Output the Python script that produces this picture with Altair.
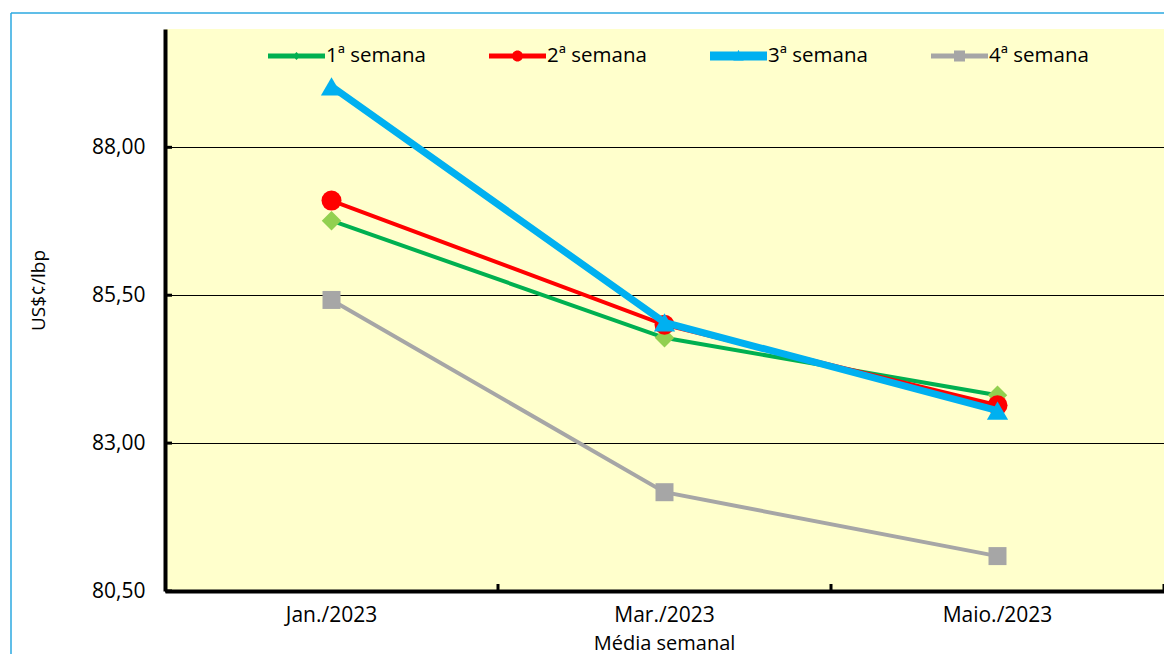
import altair as alt
import pandas as pd

# ---- data ----
meses = ["Jan./2023", "Mar./2023", "Maio./2023"]
series = ["1ª semana", "2ª semana", "3ª semana", "4ª semana"]
sem1 = [86.76, 84.78, 83.81]
sem2 = [87.10, 85.00, 83.64]
sem3 = [89.03, 85.04, 83.55]
sem4 = [85.42, 82.17, 81.09]
y_ticks = [80.5, 83.0, 85.5, 88.0]

valores = [sem1, sem2, sem3, sem4]

# ---- styles ----
line_colors = ["#00B050", "#FF0000", "#00B0F0", "#A6A6A6"]
marker_colors = ["#92D050", "#FF0000", "#00B0F0", "#A6A6A6"]
marker_shapes = ["diamond", "circle", "triangle-up", "square"]
marker_sizes = [380, 400, 450, 324]
line_widths = [4, 4, 7, 4]

FONT = "Open Sans"
W, H = 999, 562


def rect(h):
    return f"M-1,-{h}H1V{h}H-1Z"


legend_paths = [
    rect(0.088) + "M0,-0.14L0.14,0L0,0.14L-0.14,0Z",
    rect(0.088) + "M-0.193,0A0.193,0.193 0 1,1 0.193,0A0.193,0.193 0 1,1 -0.193,0Z",
    rect(0.158) + "M0,-0.22L0.18,0.17H-0.18Z",
    rect(0.088) + "M-0.193,-0.193H0.193V0.193H-0.193Z",
]

rows = []
for s, vals in zip(series, valores):
    for m, v in zip(meses, vals):
        rows.append({"mes": m, "serie": s, "valor": v})
df = pd.DataFrame(rows)

x_scale = alt.Scale(domain=meses, paddingInner=0, paddingOuter=0)
y_scale = alt.Scale(domain=[80.5, 90.0], nice=False, zero=False)

x_axis = alt.Axis(
    title="Média semanal", labelAngle=0, ticks=False, tickSize=0, grid=False,
    domainWidth=4, domainColor="#000000",
    labelFont=FONT, labelFontSize=21, labelColor="#000000", labelPadding=13,
    titleFont=FONT, titleFontSize=20, titleFontWeight="normal", titleColor="#000000",
    titleX=499, titleY=52, titleBaseline="middle", titleAlign="center",
)
y_axis = alt.Axis(
    title="US$¢/lbp", values=y_ticks, ticks=False, tickSize=0,
    labelExpr="replace(format(datum.value, '.2f'), '.', ',')",
    grid=True, gridColor="#000000", gridWidth=1,
    domainWidth=4, domainColor="#000000",
    labelFont=FONT, labelFontSize=21, labelColor="#000000", labelPadding=20,
    titleFont=FONT, titleFontSize=19, titleFontWeight="normal", titleColor="#000000",
    titleX=-127, titleY=261, titleAngle=270, titleBaseline="middle", titleAlign="center",
)

X = alt.X("mes:N", sort=meses, scale=x_scale, axis=x_axis)
Y = alt.Y("valor:Q", scale=y_scale, axis=y_axis)

layers = []

# outer frame (decorative)
frame_df = pd.DataFrame({"k": [0]})
layers.append(
    alt.Chart(frame_df).mark_rule(color="#2BA8E0", strokeWidth=1.5).encode(
        x=alt.value(-154), x2=alt.value(1100), y=alt.value(-16)
    )
)
layers.append(
    alt.Chart(frame_df).mark_rule(color="#2BA8E0", strokeWidth=1.5).encode(
        x=alt.value(-154), y=alt.value(-16), y2=alt.value(700)
    )
)

# inside tick marks
yt_df = pd.DataFrame({"valor": y_ticks})
layers.append(
    alt.Chart(yt_df).mark_rule(color="#000000", strokeWidth=3).encode(
        y=Y, x=alt.value(0), x2=alt.value(7)
    )
)
xt_df = pd.DataFrame({"mes": meses})
layers.append(
    alt.Chart(xt_df).mark_rule(color="#000000", strokeWidth=3).encode(
        x=alt.X("mes:N", sort=meses, scale=x_scale, axis=x_axis, bandPosition=1),
        y=alt.value(H - 7), y2=alt.value(H),
    )
)

# series
for i, s in enumerate(series):
    sub = df[df["serie"] == s]
    base = alt.Chart(sub).encode(x=X, y=Y)
    layers.append(base.mark_line(color=line_colors[i], strokeWidth=line_widths[i]))
    layers.append(
        base.mark_point(
            filled=True, opacity=1, color=marker_colors[i],
            shape=marker_shapes[i], size=marker_sizes[i], strokeWidth=0,
        )
    )

# legend layer (no visible marks)
leg = alt.Legend(
    title=None, orient="none", legendX=103, legendY=-1.5, direction="horizontal",
    columns=4, symbolSize=3249, symbolStrokeWidth=0, symbolOpacity=1,
    labelFont=FONT, labelFontSize=20.5, labelColor="#000000", labelOffset=1,
    columnPadding=63, padding=0,
)
layers.append(
    alt.Chart(df).transform_filter("false").mark_point(filled=True, opacity=1).encode(
        x=X, y=Y,
        color=alt.Color("serie:N", scale=alt.Scale(domain=series, range=line_colors), legend=leg),
        shape=alt.Shape("serie:N", scale=alt.Scale(domain=series, range=legend_paths), legend=leg),
    )
)

chart = alt.layer(*layers).properties(
    width=W, height=H,
    padding={"left": 157, "top": 21, "right": 0, "bottom": 63},
    autosize=alt.AutoSizeParams(type="none"),
    background="#FFFFFF",
).configure_view(fill="#FFFFCC", strokeWidth=0)

chart.save("out.html", embed_options={"renderer": "svg", "actions": False})
